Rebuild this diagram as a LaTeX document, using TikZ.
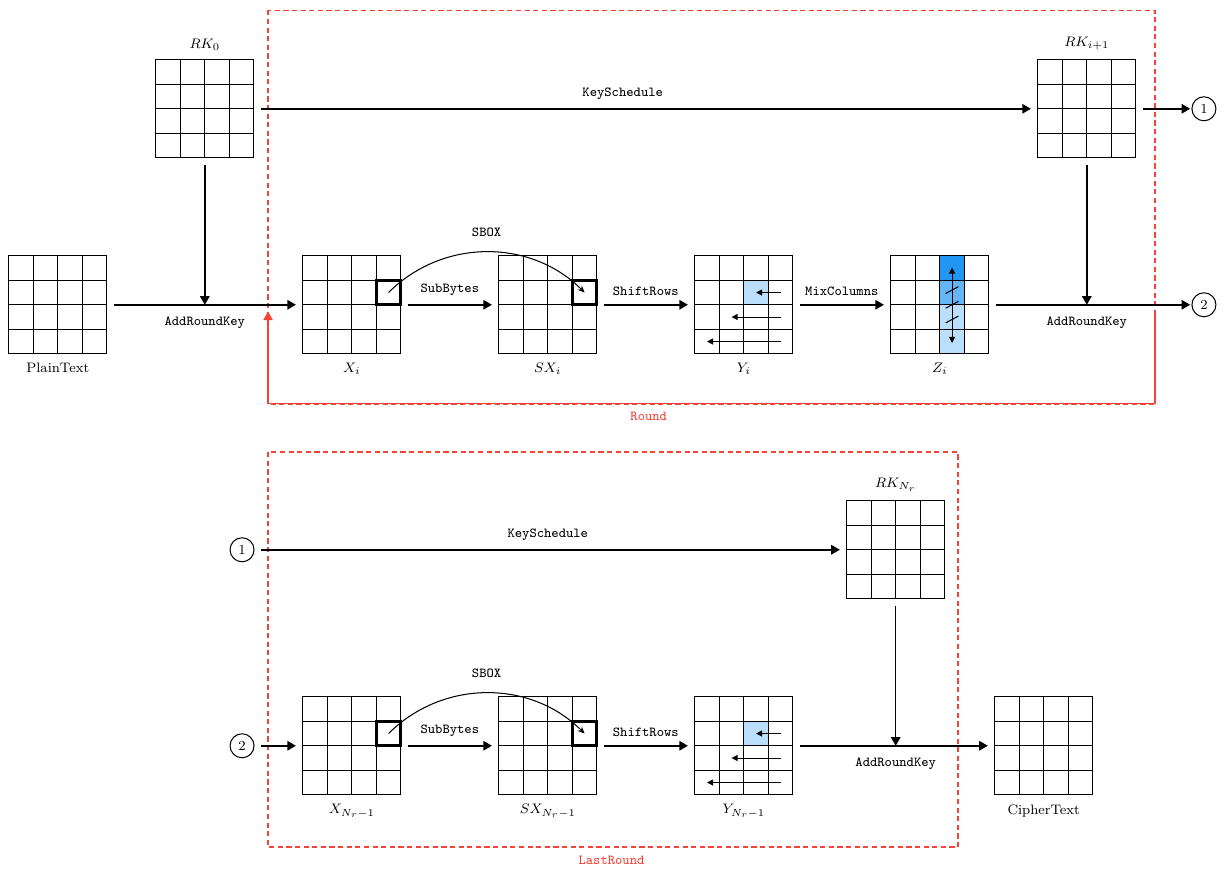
\documentclass[tikz,border=0pt]{standalone}
\usetikzlibrary{arrows.meta, backgrounds}

\definecolor{roundred}{RGB}{244,67,54}
\definecolor{cellpale}{RGB}{187,222,251}
\definecolor{cellmid}{RGB}{100,181,246}
\definecolor{celldark}{RGB}{33,150,243}

\tikzset{
  state/.style={rectangle, draw=black, line width=0.7pt, minimum size=2cm, inner sep=0, outer sep=4pt,
    path picture={
      \foreach \k in {1,2,3} {
        \draw[line width=0.7pt] ([xshift={\k*0.5cm}]path picture bounding box.south west) -- ([xshift={\k*0.5cm}]path picture bounding box.north west);
        \draw[line width=0.7pt] ([yshift={\k*0.5cm}]path picture bounding box.south west) -- ([yshift={\k*0.5cm}]path picture bounding box.south east);
      }}},
  lbl/.style={label distance=-2pt},
  marker/.style={circle, draw=black, semithick, minimum size=0.49cm, inner sep=0, outer sep=1pt},
  flow/.style={line width=0.9pt, -{Triangle[length=5pt, width=5.5pt]}},
  tlbl/.style={font=\footnotesize\ttfamily},
  shiftarrow/.style={semithick, -{Triangle[length=3.5pt, width=3.5pt]}},
  sboxarc/.style={semithick, -{Stealth[length=4pt, width=3.5pt]}},
  roundbox/.style={draw=roundred, line width=0.9pt, dash pattern=on 3pt off 2pt},
}

\begin{document}
\begin{tikzpicture}[font=\footnotesize]
  \useasboundingbox (-1.18,-11.65) rectangle (23.8,6.22);

  % Round
  \coordinate (roundNW) at (4.29,6.01);
  \coordinate (roundSE) at (22.39,-2.02);
  \draw[roundbox] (roundNW) rectangle (roundSE);

  \node[state, label={[lbl]below:PlainText}] (plain) at (0,0) {};
  \node[state, label={[lbl]above:$RK_0$}] (rkzero) at (3,4) {};
  \node[state, label={[lbl]below:$X_i$}] (xi) at (6,0) {};
  \node[state, label={[lbl]below:$SX_i$}] (sxi) at (10,0) {};
  \node[state, label={[lbl]below:$Y_i$}] (yi) at (14,0) {};
  \node[state, label={[lbl]below:$Z_i$}] (zi) at (18,0) {};
  \node[state, label={[lbl]above:$RK_{i+1}$}] (rknext) at (21,4) {};
  \node[marker] (onea) at (23.39,4) {1};
  \node[marker] (twoa) at (23.39,0) {2};

  \draw[flow] (rkzero) -- node[tlbl, above=1.5pt, pos=0.47]{KeySchedule} (rknext);
  \draw[flow] (rknext) -- (onea);
  \draw[flow] (rkzero) -- (rkzero |- plain.east) node[tlbl, below=3pt]{AddRoundKey};
  \draw[flow] (plain) -- (xi);
  \draw[flow] (xi) -- node[tlbl, above=1.5pt]{SubBytes} (sxi);
  \draw[flow] (sxi) -- node[tlbl, above=1.5pt]{ShiftRows} (yi);
  \draw[flow] (yi) -- node[tlbl, above=1.5pt]{MixColumns} (zi);
  \draw[flow] (zi) -- (twoa);
  \draw[flow] (rknext) -- (rknext |- zi.east) node[tlbl, below=3pt]{AddRoundKey};

  % sbox
  \draw[ultra thick] ([xshift=0.5cm]xi.center) rectangle ([shift={(1,0.5)}]xi.center);
  \draw[ultra thick] ([xshift=0.5cm]sxi.center) rectangle ([shift={(1,0.5)}]sxi.center);
  \draw[sboxarc] ([shift={(0.75,0.25)}]xi.center) to[bend left=45] node[tlbl, above=5pt]{SBOX} ([shift={(0.75,0.25)}]sxi.center);

  % shift rows / mix columns
  \foreach \r in {1,2,3}
    \draw[shiftarrow] ([shift={(0.75,{0.75-0.5*\r})}]yi.center) -- ++({-0.5*\r},0);
  \draw[shiftarrow, {Triangle[length=3.5pt, width=3.5pt]}-{Triangle[length=3.5pt, width=3.5pt]}] ([shift={(0.25,-0.78)}]zi.center) -- ([shift={(0.25,0.76)}]zi.center);
  \foreach \h in {-0.3,0,0.3}
    \draw[semithick] ([shift={(0.12,{\h-0.07})}]zi.center) -- ++(0.26,0.14);

  \draw[thick, draw=roundred, -{Triangle[length=5pt, width=5.5pt]}] (roundSE |- 0,-0.1) -- (roundSE) -| (roundNW |- 0,-0.14);
  \node[text=roundred, font=\footnotesize\ttfamily] (roundtxt) at (12.06,-2.27) {Round};

  % LastRound
  \coordinate (lastNW) at (4.29,-3.01);
  \coordinate (lastSE) at (18.37,-11.07);
  \draw[roundbox] (lastNW) rectangle (lastSE);

  \node[marker] (oneb) at (3.76,-5) {1};
  \node[marker] (twob) at (3.76,-9) {2};
  \node[state, label={[lbl]above:$RK_{N_r}$}] (rklast) at (17.1,-5) {};
  \node[state, label={[lbl]below:$X_{N_r-1}$}] (xlast) at (6,-9) {};
  \node[state, label={[lbl]below:$SX_{N_r-1}$}] (sxlast) at (10,-9) {};
  \node[state, label={[lbl]below:$Y_{N_r-1}$}] (ylast) at (14,-9) {};
  \node[state, label={[lbl]below:CipherText}] (cipher) at (20.12,-9) {};

  \draw[flow, shorten <=3pt] (oneb) -- node[tlbl, above=1.5pt]{KeySchedule} (rklast);
  \draw[flow, shorten <=3pt] (twob) -- (xlast);
  \draw[flow] (xlast) -- node[tlbl, above=1.5pt]{SubBytes} (sxlast);
  \draw[flow] (sxlast) -- node[tlbl, above=1.5pt]{ShiftRows} (ylast);
  \draw[flow] (ylast) -- (cipher);
  \draw[flow] (rklast) -- (rklast |- ylast.east) node[tlbl, below=3pt]{AddRoundKey};

  \draw[ultra thick] ([xshift=0.5cm]xlast.center) rectangle ([shift={(1,0.5)}]xlast.center);
  \draw[ultra thick] ([xshift=0.5cm]sxlast.center) rectangle ([shift={(1,0.5)}]sxlast.center);
  \draw[sboxarc] ([shift={(0.75,0.25)}]xlast.center) to[bend left=45] node[tlbl, above=5pt]{SBOX} ([shift={(0.75,0.25)}]sxlast.center);

  \foreach \r in {1,2,3}
    \draw[shiftarrow] ([shift={(0.75,{0.75-0.5*\r})}]ylast.center) -- ++({-0.5*\r},0);

  \node[text=roundred, font=\footnotesize\ttfamily] (lasttxt) at (11.3,-11.33) {LastRound};

  \begin{scope}[on background layer]
    \fill[cellpale] (yi.center) rectangle ([shift={(0.5,0.5)}]yi.center);
    \fill[cellpale] ([yshift=-1cm]zi.center) rectangle ([xshift=0.5cm]zi.center);
    \fill[cellmid] (zi.center) rectangle ([shift={(0.5,0.5)}]zi.center);
    \fill[celldark] ([yshift=0.5cm]zi.center) rectangle ([shift={(0.5,1)}]zi.center);
    \fill[cellpale] (ylast.center) rectangle ([shift={(0.5,0.5)}]ylast.center);
  \end{scope}
\end{tikzpicture}
\end{document}
